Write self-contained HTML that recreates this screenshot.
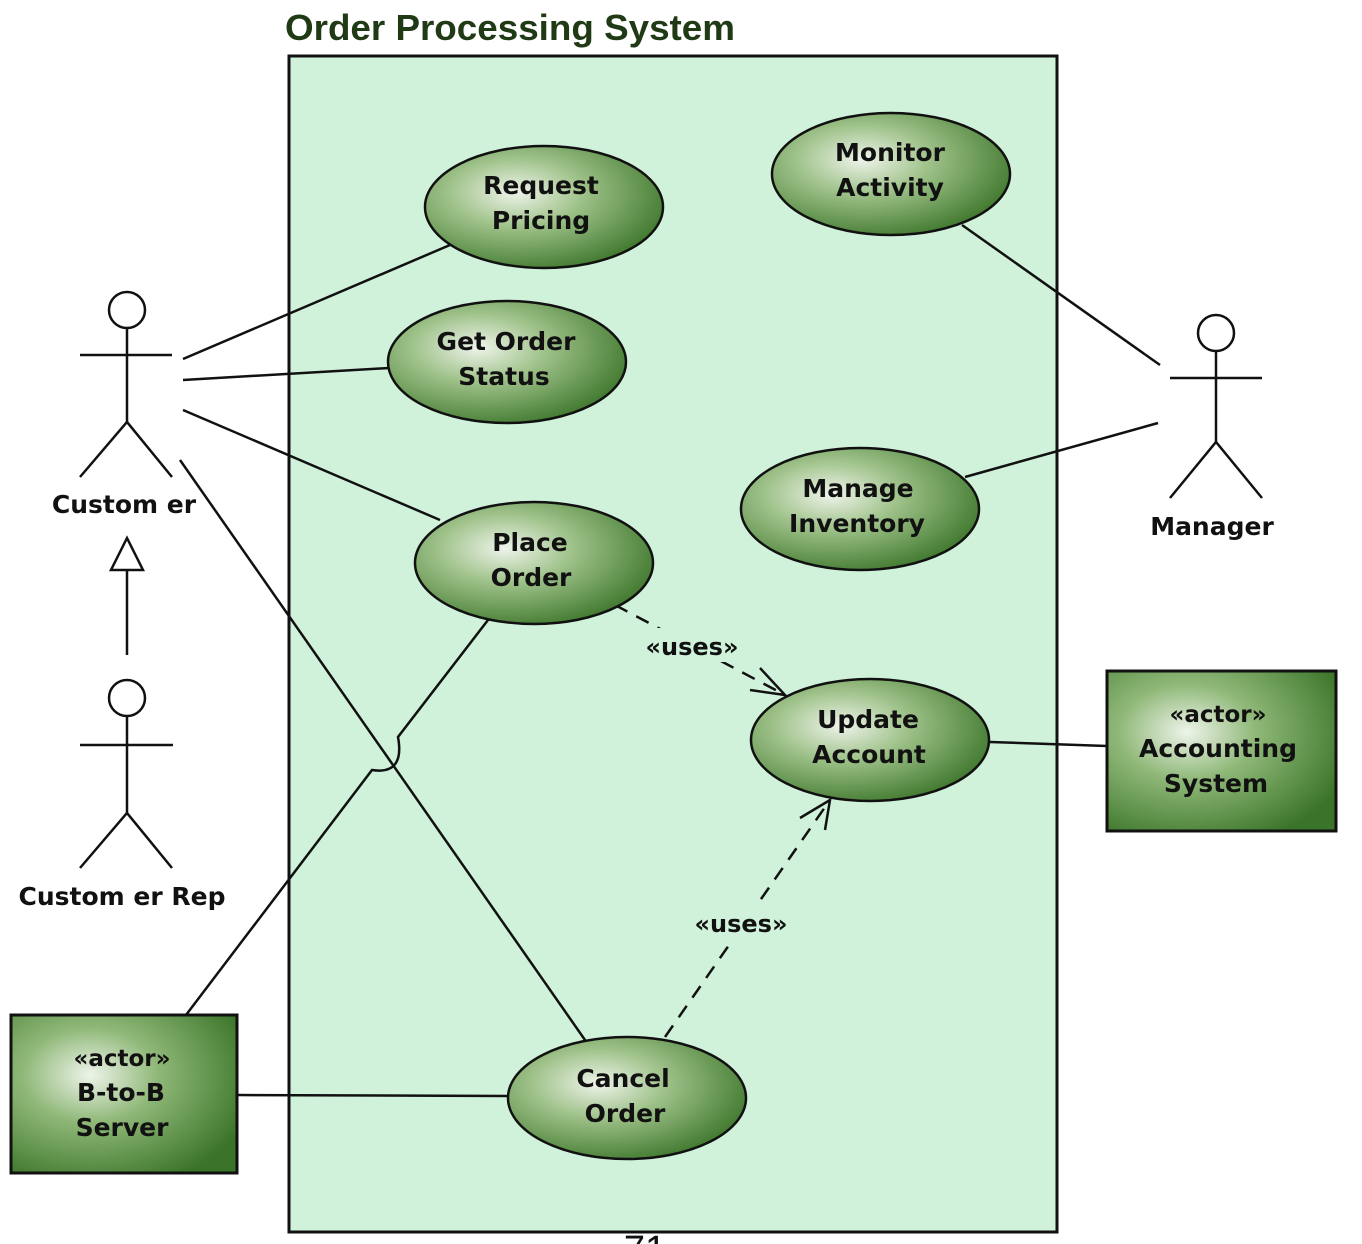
<!DOCTYPE html>
<html><head><meta charset="utf-8"><style>
html,body{margin:0;padding:0;background:#fff;width:1362px;height:1244px;overflow:hidden}
svg text{font-family:"DejaVu Sans","Liberation Sans",sans-serif;font-weight:bold;fill:#111}
</style></head><body>
<svg width="1362" height="1244" viewBox="0 0 1362 1244" xmlns="http://www.w3.org/2000/svg">
<defs>
<radialGradient id="eg" cx="0.38" cy="0.38" r="0.7">
<stop offset="0" stop-color="#eef4ea"/><stop offset="0.4" stop-color="#9fc28a"/><stop offset="1" stop-color="#3a7428"/>
</radialGradient>
<radialGradient id="bg" cx="0.35" cy="0.38" r="0.75">
<stop offset="0" stop-color="#eef4ea"/><stop offset="0.4" stop-color="#8fb878"/><stop offset="1" stop-color="#3a7428"/>
</radialGradient>
</defs>
<text x="285" y="40" font-size="36" textLength="450" lengthAdjust="spacingAndGlyphs" style="fill:#1f3a14;font-family:'Liberation Sans',sans-serif">Order Processing System</text>
<rect x="289" y="56" width="768" height="1176" fill="#d0f2da" stroke="#111" stroke-width="3"/>

<g stroke="#111" stroke-width="2.5" fill="none">
<line x1="183" y1="359" x2="450" y2="245"/>
<line x1="183" y1="380" x2="389" y2="368"/>
<line x1="183" y1="410" x2="440" y2="520"/>
<line x1="180" y1="460" x2="585" y2="1040"/>
<path d="M186,1015 L372,770 Q405,775 398,737 L488,620"/>
<line x1="237" y1="1095" x2="508" y2="1096"/>
<line x1="962" y1="225" x2="1160" y2="365"/>
<line x1="965" y1="477" x2="1158" y2="423"/>
<line x1="990" y1="742" x2="1107" y2="746"/>
<line x1="615" y1="605" x2="785" y2="695" stroke-dasharray="14,10"/>
<polyline points="760,668 785,695 750,690"/>
<line x1="665" y1="1037" x2="830" y2="800" stroke-dasharray="14,10"/>
<polyline points="800,818 830,800 825,830"/>
<circle cx="127" cy="310" r="18"/>
<line x1="127" y1="328" x2="127" y2="422"/>
<line x1="80" y1="355" x2="172" y2="355"/>
<polyline points="80,477 127,422 172,477"/>
<circle cx="127" cy="698" r="18"/>
<line x1="127" y1="716" x2="127" y2="813"/>
<line x1="80" y1="745" x2="173" y2="745"/>
<polyline points="80,868 127,813 172,868"/>
<line x1="127" y1="655" x2="127" y2="570"/>
<polygon points="127,538 111,570 143,570"/>
<circle cx="1216" cy="333" r="18"/>
<line x1="1216" y1="351" x2="1216" y2="442"/>
<line x1="1170" y1="378" x2="1262" y2="378"/>
<polyline points="1170,498 1216,442 1262,498"/>
</g>
<rect x="640" y="628" width="106" height="34" fill="#d0f2da"/>
<rect x="690" y="905" width="106" height="34" fill="#d0f2da"/>

<g stroke="#111" stroke-width="2.5" fill="url(#eg)">
<ellipse cx="544" cy="207" rx="119" ry="61"/>
<ellipse cx="891" cy="174" rx="119" ry="61"/>
<ellipse cx="507" cy="362" rx="119" ry="61"/>
<ellipse cx="860" cy="509" rx="119" ry="61"/>
<ellipse cx="534" cy="563" rx="119" ry="61"/>
<ellipse cx="870" cy="740" rx="119" ry="61"/>
<ellipse cx="627" cy="1098" rx="119" ry="61"/>
</g>
<g stroke="#111" stroke-width="3" fill="url(#bg)">
<rect x="1107" y="671" width="229" height="160"/>
<rect x="11" y="1015" width="226" height="158"/>
</g>

<g font-size="25" text-anchor="middle">
<text x="541" y="194">Request</text><text x="541" y="229">Pricing</text>
<text x="890" y="161">Monitor</text><text x="890" y="196">Activity</text>
<text x="506" y="350">Get Order</text><text x="504" y="385">Status</text>
<text x="858" y="497">Manage</text><text x="857" y="532">Inventory</text>
<text x="530" y="551">Place</text><text x="531" y="586">Order</text>
<text x="868" y="728">Update</text><text x="869" y="763">Account</text>
<text x="623" y="1087">Cancel</text><text x="625" y="1122">Order</text>
<text x="1218" y="722" font-size="23">«actor»</text>
<text x="1218" y="757">Accounting</text><text x="1216" y="792">System</text>
<text x="122" y="1066" font-size="23">«actor»</text>
<text x="121" y="1101">B-to-B</text><text x="122" y="1136">Server</text>
<text x="124" y="513">Custom er</text>
<text x="122" y="905">Custom er Rep</text>
<text x="1212" y="535">Manager</text>
<text x="692" y="655" font-size="24">«uses»</text>
<text x="741" y="932" font-size="24">«uses»</text>
</g>
<text x="645" y="1262" font-size="38" text-anchor="middle" style="font-weight:normal;font-family:'Liberation Sans',sans-serif">71</text>
</svg>
</body></html>
